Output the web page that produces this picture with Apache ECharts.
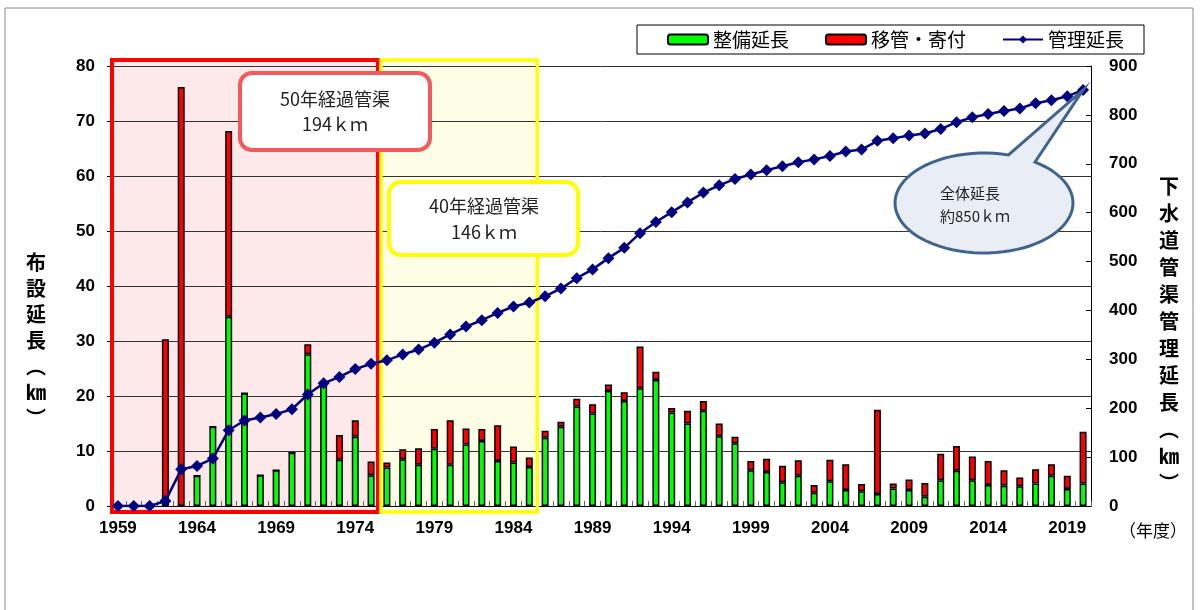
<!DOCTYPE html>
<html>
<head>
<meta charset="utf-8">
<script src="https://cdn.jsdelivr.net/npm/echarts@6/dist/echarts.min.js"></script>
<style>
html,body{margin:0;padding:0;background:#fff;}
#chart{width:1200px;height:610px;}
</style>
</head>
<body>
<div id="chart"></div>
<script>
// 年度
const years = ['1959','1960','1961','1962','1963','1964','1965','1966','1967','1968',
  '1969','1970','1971','1972','1973','1974','1975','1976','1977','1978',
  '1979','1980','1981','1982','1983','1984','1985','1986','1987','1988',
  '1989','1990','1991','1992','1993','1994','1995','1996','1997','1998',
  '1999','2000','2001','2002','2003','2004','2005','2006','2007','2008',
  '2009','2010','2011','2012','2013','2014','2015','2016','2017','2018',
  '2019','2020'];

// 整備延長 (km)
const seibi = [0,0,0,0,0,5.5,14.4,34.4,20.5,5.6,
  6.5,9.7,27.6,22.2,8.4,12.6,5.6,7.0,8.5,7.5,
  10.4,7.5,11.2,11.8,8.2,7.9,7.1,12.4,14.4,18.1,
  16.8,20.9,19.1,21.4,22.9,17.0,15.0,17.3,12.7,11.4,
  6.5,6.2,4.3,5.5,2.4,4.5,2.9,2.7,2.2,3.2,
  2.9,1.7,4.7,6.4,4.7,3.8,3.7,3.6,4.1,5.5,
  3.1,4.1];

// 移管・寄付 (km)
const iko = [0,0,0,30.3,76.2,0,0,33.8,0,0,
  0,0,1.8,0,4.5,3.0,2.5,0.9,1.8,3.0,
  3.6,8.1,2.9,2.2,6.5,2.9,1.7,1.3,0.9,1.4,
  1.7,1.2,1.6,7.6,1.5,0.8,2.3,1.8,2.3,1.2,
  1.7,2.4,3.0,2.8,1.4,3.9,4.7,1.3,15.3,0.9,
  1.9,2.5,4.8,4.5,4.3,4.4,2.8,1.6,2.6,2.1,
  2.4,9.4];

// 管理延長 (km)
const kanri = [0,0,0,10,75,82,97,155,175,181,
  188,198,228,251,264,280,291,298,310,320,
  334,351,367,380,395,408,416,429,445,466,
  484,507,528,558,581,601,621,641,656,669,
  678,687,695,703,709,716,725,729,747,752,
  758,762,771,785,795,802,808,813,824,830,
  838,851];

// 経過年数で色分けする範囲
const range50 = ['1959', '1975'];
const range40 = ['1976', '1985'];

const numFont = "'Liberation Sans', Arial, sans-serif";
const jpFont = "'Noto Sans CJK JP', sans-serif";

const chart = echarts.init(document.getElementById('chart'), null, {renderer: 'canvas'});

chart.setOption({
  animation: false,
  backgroundColor: '#fff',
  grid: {left: 110, right: 109, top: 66, bottom: 104, containLabel: false},
  legend: {
    left: 637, top: 25,
    backgroundColor: '#fff', borderColor: '#000', borderWidth: 1,
    padding: [5, 20, 5, 30],
    itemGap: 36, itemWidth: 40, itemHeight: 10,
    textStyle: {fontFamily: jpFont, fontSize: 19, color: '#000'},
    data: ['整備延長', '移管・寄付', '管理延長']
  },
  xAxis: {
    type: 'category',
    data: years,
    boundaryGap: true,
    axisLine: {lineStyle: {color: '#000', width: 1}},
    axisTick: {show: true, inside: true, length: 5, interval: 0, lineStyle: {color: '#666'}},
    axisLabel: {interval: 4, margin: 14, fontFamily: numFont, fontWeight: 'bold', fontSize: 17, color: '#000'},
    splitLine: {show: false}
  },
  yAxis: [
    {
      type: 'value', min: 0, max: 80, interval: 10,
      axisLine: {show: true, lineStyle: {color: '#000'}},
      axisTick: {show: true, length: 3, lineStyle: {color: '#000'}},
      axisLabel: {margin: 15, fontFamily: numFont, fontWeight: 'bold', fontSize: 17, color: '#000'},
      splitLine: {show: true, lineStyle: {color: '#333', width: 1}}
    },
    {
      type: 'value', min: 0, max: 900, interval: 100,
      axisLine: {show: true, lineStyle: {color: '#000'}},
      axisTick: {show: true, inside: true, length: 5, lineStyle: {color: '#000'}},
      axisLabel: {margin: 18, fontFamily: numFont, fontWeight: 'bold', fontSize: 17, color: '#000'},
      splitLine: {show: false}
    }
  ],
  series: [
    {
      name: '整備延長', type: 'bar', stack: 'total', barWidth: 7,
      itemStyle: {color: '#00FF00', borderColor: '#000', borderWidth: 1.5},
      data: seibi
    },
    {
      name: '移管・寄付', type: 'bar', stack: 'total', barWidth: 7,
      itemStyle: {color: '#FF0000', borderColor: '#000', borderWidth: 1.5},
      data: iko
    },
    {
      name: '管理延長', type: 'line', yAxisIndex: 1,
      symbol: 'diamond', symbolSize: 12, showAllSymbol: true,
      lineStyle: {color: '#000080', width: 2.5},
      itemStyle: {color: '#000080'},
      data: kanri, z: 5
    }
  ]
});

// 区間の左右端（カテゴリ帯の境界）を求める
function bandEdges(from, to) {
  const a = chart.convertToPixel({xAxisIndex: 0}, from);
  const b = chart.convertToPixel({xAxisIndex: 0}, to);
  const step = chart.convertToPixel({xAxisIndex: 0}, years[1]) - chart.convertToPixel({xAxisIndex: 0}, years[0]);
  return [a - step / 2, b + step / 2];
}
const yTop = chart.convertToPixel({yAxisIndex: 0}, 80) - 6;
const yBot = chart.convertToPixel({yAxisIndex: 0}, 0) + 6;
const e50 = bandEdges(range50[0], range50[1]);
const e40 = bandEdges(range40[0], range40[1]);
const tip = chart.convertToPixel({xAxisIndex: 0, yAxisIndex: 1}, [years[years.length - 1], kanri[kanri.length - 1]]);

// 吹き出し（楕円＋しっぽ）
function bubblePoints(cx, cy, rx, ry, a0, a1, tx, ty) {
  const pts = [];
  const n = 72;
  const start = a1 * Math.PI / 180;
  const end = (a0 + 360) * Math.PI / 180;
  for (let i = 0; i <= n; i++) {
    const t = start + (end - start) * i / n;
    pts.push([cx + rx * Math.cos(t), cy + ry * Math.sin(t)]);
  }
  pts.push([tx, ty]);
  return pts;
}

function vertical(str) { return str.split('').join('\n'); }

chart.setOption({
  graphic: [
    // 外枠
    {type: 'rect', z: -2, shape: {x: 5, y: 8, width: 1188, height: 700},
     style: {fill: 'none', stroke: '#888', lineWidth: 1}},
    // 50年経過 区間
    {type: 'rect', z: -1, shape: {x: e50[0] + 2, y: yTop, width: e50[1] - e50[0] - 3, height: yBot - yTop},
     style: {fill: '#FDE9E9', stroke: 'none'}},
    {type: 'rect', z: 1, shape: {x: e50[0] + 2, y: yTop, width: e50[1] - e50[0] - 3, height: yBot - yTop},
     style: {fill: 'none', stroke: '#FF0000', lineWidth: 4}},
    // 40年経過 区間
    {type: 'rect', z: -1, shape: {x: e40[0] + 2, y: yTop, width: e40[1] - e40[0] - 2, height: yBot - yTop},
     style: {fill: '#FEFEE6', stroke: 'none'}},
    {type: 'rect', z: 1, shape: {x: e40[0] + 2, y: yTop, width: e40[1] - e40[0] - 2, height: yBot - yTop},
     style: {fill: 'none', stroke: '#FFFF00', lineWidth: 3.5}},
    // 注記ボックス
    {type: 'rect', z: 10, shape: {x: 240, y: 73, width: 190, height: 77, r: 12},
     style: {fill: '#fff', stroke: '#F25B5B', lineWidth: 4}},
    {type: 'text', z: 11, x: 335, y: 112,
     style: {text: '50年経過管渠\n194ｋｍ', fill: '#222', font: "18px 'Noto Sans CJK JP'", align: 'center', verticalAlign: 'middle', lineHeight: 25}},
    {type: 'rect', z: 10, shape: {x: 389, y: 182, width: 189, height: 73, r: 12},
     style: {fill: '#fff', stroke: '#FFFF00', lineWidth: 4}},
    {type: 'text', z: 11, x: 484, y: 219,
     style: {text: '40年経過管渠\n146ｋｍ', fill: '#222', font: "18px 'Noto Sans CJK JP'", align: 'center', verticalAlign: 'middle', lineHeight: 26}},
    // 全体延長の吹き出し
    {type: 'polygon', z: 10, shape: {points: bubblePoints(984, 203, 89, 50, -74, -55, tip[0], tip[1])},
     style: {fill: '#E9EEF6', stroke: '#41648F', lineWidth: 3}},
    {type: 'text', z: 11, x: 940, y: 205,
     style: {text: '全体延長\n約850ｋｍ', fill: '#222', font: "15px 'Noto Sans CJK JP'", align: 'left', verticalAlign: 'middle', lineHeight: 23}},
    // 軸タイトル
    {type: 'text', z: 5, x: 36, y: 340,
     style: {text: vertical('布設延長︵㎞︶'), fill: '#000', font: "bold 20px 'Noto Sans CJK JP'", align: 'center', verticalAlign: 'middle', lineHeight: 26}},
    {type: 'text', z: 5, x: 1169, y: 335,
     style: {text: vertical('下水道管渠管理延長︵㎞︶'), fill: '#000', font: "bold 20px 'Noto Sans CJK JP'", align: 'center', verticalAlign: 'middle', lineHeight: 27}},
    {type: 'text', z: 5, x: 1153, y: 531,
     style: {text: '（年度）', fill: '#000', font: "17px 'Noto Sans CJK JP'", align: 'center', verticalAlign: 'middle'}}
  ]
});
</script>
</body>
</html>
